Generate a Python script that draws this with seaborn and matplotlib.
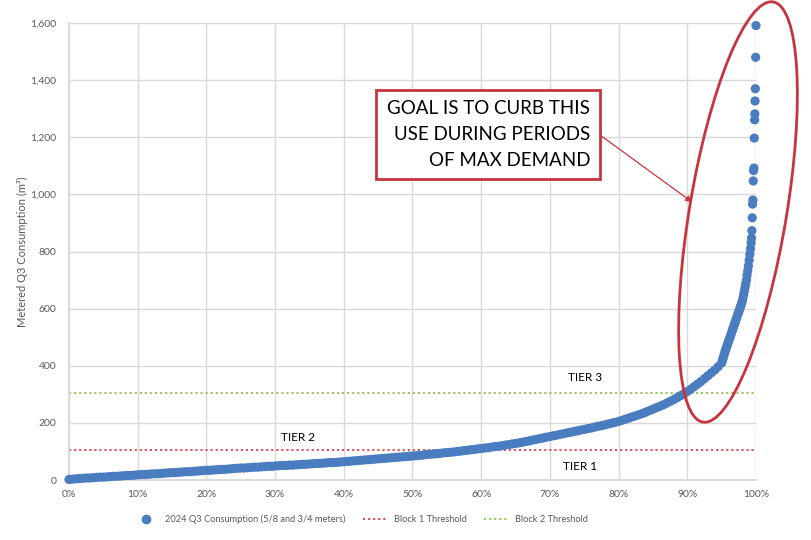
import numpy as np
import pandas as pd
import matplotlib
matplotlib.use("Agg")
import matplotlib.pyplot as plt
from matplotlib.patches import Ellipse, Rectangle
from matplotlib.lines import Line2D
from matplotlib.ticker import PercentFormatter, FuncFormatter
import seaborn as sns

# ---------------- data ----------------
# percentile rank (0..1) of each account, and its Q3 consumption (m3)
pct_body = [i * 0.005 for i in range(191)]  # 0% .. 95% in 0.5% steps
use_body = [2, 3, 4, 5, 6, 7, 7, 8, 9, 10, 10, 11, 12, 13, 13, 14, 15, 16, 16, 17,
            18, 19, 19, 20, 21, 22, 22, 23, 24, 25, 26, 26, 27, 28, 29, 29, 30, 31, 32, 33,
            34, 34, 35, 36, 37, 37, 38, 39, 40, 41, 42, 42, 43, 44, 45, 45, 46, 47, 48, 48,
            49, 50, 51, 51, 52, 52, 53, 54, 55, 55, 56, 57, 58, 58, 59, 60, 61, 61, 62, 63,
            64, 65, 66, 67, 68, 69, 70, 71, 72, 73, 74, 75, 76, 77, 78, 79, 80, 81, 82, 83,
            84, 85, 86, 87, 89, 90, 91, 92, 93, 95, 96, 97, 98, 100, 101, 103, 104, 106, 107, 109,
            110, 112, 113, 115, 117, 118, 120, 122, 124, 126, 128, 130, 132, 135, 137, 140, 142, 145, 147, 150,
            152, 155, 157, 160, 162, 165, 167, 170, 172, 175, 177, 180, 182, 185, 188, 190, 193, 196, 199, 202,
            205, 209, 213, 217, 221, 225, 229, 233, 238, 243, 248, 253, 258, 263, 269, 275, 281, 288, 295, 302,
            310, 318, 327, 336, 345, 355, 365, 375, 385, 397, 410]
pct_steep = [0.951, 0.952, 0.953, 0.954, 0.955, 0.956, 0.957, 0.958, 0.959, 0.960,
             0.961, 0.962, 0.963, 0.964, 0.965, 0.966, 0.967, 0.968, 0.969, 0.970,
             0.971, 0.972, 0.973, 0.974, 0.975, 0.976, 0.977, 0.978, 0.979, 0.980,
             0.981, 0.982, 0.983, 0.984, 0.985, 0.986, 0.987, 0.988, 0.989, 0.990,
             0.991, 0.992]
use_steep = [418, 426, 434, 442, 450, 457, 464, 471, 478, 485,
             492, 499, 506, 513, 520, 527, 534, 541, 548, 555,
             562, 569, 576, 583, 590, 597, 604, 611, 618, 625,
             637, 649, 661, 674, 687, 700, 717, 733, 750, 770,
             790, 810]
pct_top = [0.993, 0.9935, 0.994, 0.9945, 0.995, 0.9955, 0.996, 0.9965, 0.997,
           0.9975, 0.998, 0.9983, 0.9986, 0.999, 0.9995, 1.0]
use_top = [830, 847, 873, 918, 966, 980, 1047, 1083, 1092,
           1197, 1261, 1282, 1327, 1370, 1480, 1591]

block1_threshold = 105
block2_threshold = 305

y_ticks = [0, 200, 400, 600, 800, 1000, 1200, 1400, 1600]
x_ticks = [0, 0.1, 0.2, 0.3, 0.4, 0.5, 0.6, 0.7, 0.8, 0.9, 1.0]

series_label = "2024 Q3 Consumption (5/8 and 3/4 meters)"
block1_label = "Block 1 Threshold"
block2_label = "Block 2 Threshold"
y_label = "Metered Q3 Consumption (m³)"
callout_lines = ["GOAL IS TO CURB THIS", "USE DURING PERIODS", "OF MAX DEMAND"]

# ---------------- styling ----------------
sns.set_theme(style="white")
plt.rcParams["font.family"] = ["Lato", "DejaVu Sans"]

BLUE = "#4a7cc0"
RED = "#d9434b"
GREEN = "#92c050"
GRID = "#d9d9d9"
TXT = "#595959"
CALLOUT = "#c8343d"

fig = plt.figure(figsize=(8.11, 5.40), dpi=100)
ax = fig.add_axes([69 / 811, 1 - 480 / 540, (756 - 69) / 811, (480 - 23) / 540])

df = pd.DataFrame({
    "pct": pct_body + pct_steep + pct_top,
    "use": use_body + use_steep + use_top,
})

# thresholds
ax.plot([0, 1], [block1_threshold, block1_threshold], color=RED,
        linestyle=(0, (1.2, 1.6)), lw=1.3, zorder=2)
ax.plot([0, 1], [block2_threshold, block2_threshold], color=GREEN,
        linestyle=(0, (1.2, 1.6)), lw=1.3, zorder=2)

sns.scatterplot(data=df, x="pct", y="use", color=BLUE, s=44, linewidth=0,
                edgecolor="none", ax=ax, zorder=3, clip_on=False, legend=False)

ax.set_xlim(0, 1)
ax.set_ylim(0, 1600)
ax.set_xticks(x_ticks)
ax.set_yticks(y_ticks)
ax.xaxis.set_major_formatter(PercentFormatter(1.0, decimals=0))
ax.yaxis.set_major_formatter(FuncFormatter(lambda v, p: f"{int(v):,}"))
ax.grid(True, color=GRID, lw=1.0)
ax.set_axisbelow(True)
for s in ["top", "right"]:
    ax.spines[s].set_visible(False)
for s in ["left", "bottom"]:
    ax.spines[s].set_color(GRID)
    ax.spines[s].set_linewidth(1.3)
ax.tick_params(axis="both", length=0, labelsize=7.5, labelcolor=TXT)
ax.tick_params(axis="y", pad=9)
ax.tick_params(axis="x", pad=7)
ax.set_xlabel("")
ax.set_ylabel(y_label, fontsize=8, color=TXT, labelpad=2)

# tier labels
ax.text(0.751, 360, "TIER 3", ha="center", va="center", fontsize=8.5, color="black")
ax.text(0.333, 150, "TIER 2", ha="center", va="center", fontsize=8.5, color="black")
ax.text(0.744, 49, "TIER 1", ha="center", va="center", fontsize=8.5, color="black")

# callout ellipse (figure inches)
ell = Ellipse((7.38, 3.28), width=4.26, height=0.97, angle=80.5,
              transform=fig.dpi_scale_trans, fill=False, edgecolor=CALLOUT, lw=2.0,
              zorder=5)
fig.add_artist(ell)

# callout box
rect = Rectangle((3.76, (540 - 179) / 100), 2.24, 0.89, transform=fig.dpi_scale_trans,
                 fill=True, facecolor="white", edgecolor=CALLOUT, lw=2.0, zorder=5)
fig.add_artist(rect)
for i, line in enumerate(callout_lines):
    fig.text(5.90 / 8.11, 1 - (109 + 25.5 * i) / 540, line, ha="right", va="center",
             fontsize=13.5, color="black", zorder=6)

# arrow
ax.annotate("", xy=(692, 540 - 202), xycoords="figure pixels",
            xytext=(600, 540 - 135), textcoords="figure pixels",
            arrowprops=dict(arrowstyle="-|>", color=CALLOUT, lw=0.9, mutation_scale=9,
                            shrinkA=0, shrinkB=0))

# legend
handles = [
    Line2D([], [], marker="o", linestyle="none", color=BLUE, markersize=6),
    Line2D([], [], color=RED, linestyle=(0, (1.2, 1.6)), lw=1.3),
    Line2D([], [], color=GREEN, linestyle=(0, (1.2, 1.6)), lw=1.3),
]
fig.legend(handles, [series_label, block1_label, block2_label], loc="center left",
           bbox_to_anchor=(126 / 811, 1 - 519 / 540), ncol=3, frameon=False,
           fontsize=6.7, handlelength=2.6, columnspacing=1.9, handletextpad=0.7,
           labelcolor=TXT)

fig.savefig("out.png", dpi=100)
